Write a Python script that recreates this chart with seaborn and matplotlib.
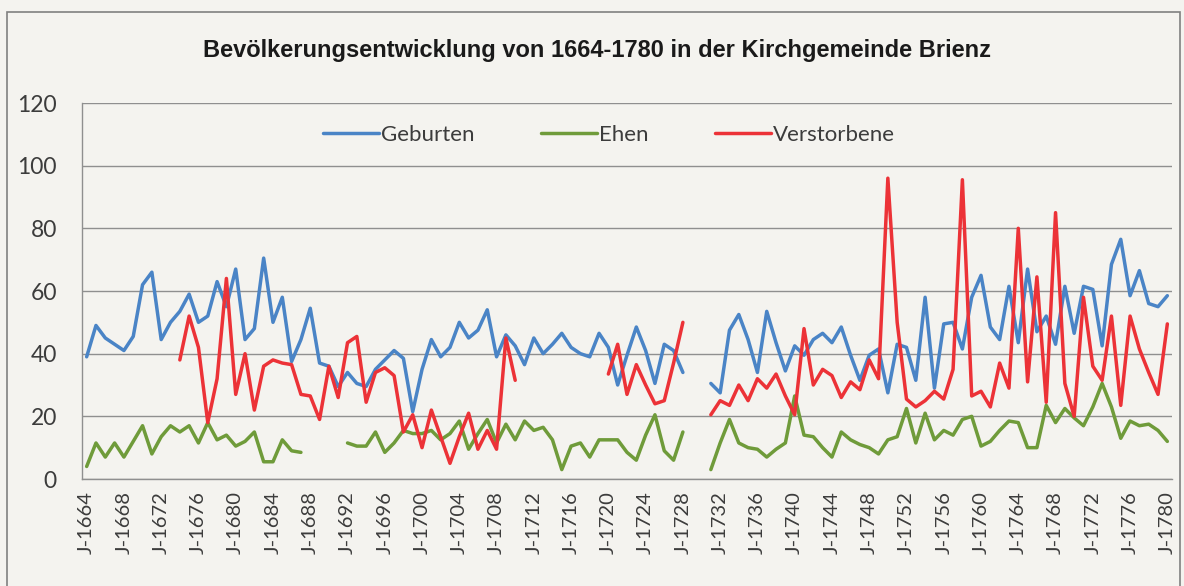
import numpy as np
import pandas as pd
import matplotlib
matplotlib.use('Agg')
import matplotlib.pyplot as plt
from matplotlib.patches import Rectangle
import seaborn as sns

# Jahre 1664-1780 (None = keine Angabe)
years = list(range(1664, 1781))

geburten = [39, 49, 45, 43, 41, 45.5, 62, 66, 44.5, 50,
            53.5, 59, 50, 52, 63, 55, 67, 44.5, 48, 70.5,
            50, 58, 37.5, 44.5, 54.5, 37, 36, 29.5, 34, 30.5,
            29.5, 35, 38, 41, 38.5, 21.5, 35, 44.5, 39, 42,
            50, 45, 47.5, 54, 39, 46, 42.5, 36.5, 45, 40,
            43, 46.5, 42, 40, 39, 46.5, 42, 30, 39.5, 48.5,
            41, 30.5, 43, 41, 34, None, None, 30.5, 27.5, 47.5,
            52.5, 44.5, 34, 53.5, 43.5, 34.5, 42.5, 39.5, 44.5, 46.5,
            43.5, 48.5, 39.5, 31.5, 39.5, 41.5, 27.5, 43, 42, 31.5,
            58, 29, 49.5, 50, 41.5, 58, 65, 48.5, 44.5, 61.5,
            43.5, 67, 47, 52, 43, 61.5, 46.5, 61.5, 60.5, 42.5,
            68.5, 76.5, 58.5, 66.5, 56, 55, 58.5]

ehen = [4, 11.5, 7, 11.5, 7, 12, 17, 8, 13.5, 17,
        15, 17, 11.5, 18, 12.5, 14, 10.5, 12, 15, 5.5,
        5.5, 12.5, 9, 8.5, None, None, None, None, 11.5, 10.5,
        10.5, 15, 8.5, 11.5, 15.5, 14.5, 14.5, 15.5, 12.5, 14.5,
        18.5, 9.5, 14.5, 19, 11.5, 17.5, 12.5, 18.5, 15.5, 16.5,
        12.5, 3, 10.5, 11.5, 7, 12.5, 12.5, 12.5, 8.5, 6,
        14, 20.5, 9, 6, 15, None, None, 3, 11.5, 19,
        11.5, 10, 9.5, 7, 9.5, 11.5, 26.5, 14, 13.5, 10,
        7, 15, 12.5, 11, 10, 8, 12.5, 13.5, 22.5, 11.5,
        21, 12.5, 15.5, 14, 19, 20, 10.5, 12, 15.5, 18.5,
        18, 10, 10, 23.5, 18, 22.5, 19.5, 17, 23, 30.5,
        23, 13, 18.5, 17, 17.5, 15.5, 12]

verstorbene = [None, None, None, None, None, None, None, None, None, None,
               38, 52, 42, 18, 32, 64, 27, 40, 22, 36,
               38, 37, 36.5, 27, 26.5, 19, 36, 26, 43.5, 45.5,
               24.5, 34, 35.5, 33, 15, 20.5, 10, 22, 13.5, 5,
               13.5, 21, 9.5, 15.5, 9.5, 45, 31.5, None, None, None,
               None, None, None, None, None, None, 33.5, 43, 27, 36.5,
               30, 24, 25, 37, 50, None, None, 20.5, 25, 23.5,
               30, 25, 32, 29, 33.5, 26.5, 20.5, 48, 30, 35,
               33, 26, 31, 28.5, 38, 32, 96, 50, 25.5, 23,
               25, 28, 25.5, 35, 95.5, 26.5, 28, 23, 37, 29,
               80, 31, 64.5, 24.5, 85, 30.5, 20, 58, 36, 31.5,
               52, 23.5, 52, 41.5, 34, 27, 49.5]

series_names = ['Geburten', 'Ehen', 'Verstorbene']
colors = ['#4a84c6', '#6f9b3a', '#ec3237']
tick_labels = ['J-%d' % y for y in years]

# Langes Format, Luecken als eigene Teilstuecke (units)
frames = []
for name, vals in zip(series_names, [geburten, ehen, verstorbene]):
    s = pd.Series(vals, dtype=float)
    seg = s.isna().cumsum()
    d = pd.DataFrame({'idx': np.arange(len(years)), 'wert': s,
                      'reihe': name, 'teil': name + seg.astype(str)})
    frames.append(d.dropna())
df = pd.concat(frames, ignore_index=True)

sns.set_style('white')
plt.rcParams['font.family'] = ['Lato', 'DejaVu Sans']

bg = '#f4f3ef'
grid_col = '#8f8f8f'
text_col = '#3c3c3c'

fig = plt.figure(figsize=(11.84, 5.86), dpi=100, facecolor=bg)
ax = fig.add_axes([82 / 1184, 1 - 479 / 586, (1172 - 82) / 1184, (479 - 103) / 586])
ax.set_facecolor(bg)

sns.lineplot(data=df, x='idx', y='wert', hue='reihe', units='teil',
             estimator=None, palette=dict(zip(series_names, colors)),
             hue_order=series_names, linewidth=2.5, ax=ax)

ax.set_xlim(-0.5, len(years) - 0.5)
ax.set_ylim(0, 120)
ax.set_yticks(range(0, 121, 20))
ax.set_xticks(range(0, len(years), 4))
ax.set_xticklabels(tick_labels[::4], rotation=90)
ax.set_xticks(np.arange(-0.5, len(years), 1), minor=True)
ax.set_xlabel('')
ax.set_ylabel('')

ax.grid(axis='y', color=grid_col, linewidth=1)
ax.grid(axis='x', visible=False)
for side in ['top', 'right']:
    ax.spines[side].set_visible(False)
for side in ['left', 'bottom']:
    ax.spines[side].set_color(grid_col)
    ax.spines[side].set_linewidth(1)

ax.tick_params(axis='y', length=6, color=grid_col, labelsize=16.5,
               labelcolor=text_col, pad=12)
ax.tick_params(axis='x', which='major', length=0, labelsize=14.5,
               labelcolor=text_col, pad=9)
ax.tick_params(axis='x', which='minor', length=5, color=grid_col,
               direction='out')

handles, labels = ax.get_legend_handles_labels()
keep = [(h, l) for h, l in zip(handles, labels) if l in series_names]
ax.legend([h for h, l in keep], [l for h, l in keep], ncol=3, frameon=False,
          loc='center', bbox_to_anchor=(0.4835, 0.915), fontsize=16,
          handlelength=2.5, handletextpad=0.1, columnspacing=3.0,
          labelcolor=text_col)

fig.text(0.504, 1 - 50 / 586,
         'Bevölkerungsentwicklung von 1664-1780 in der Kirchgemeinde Brienz',
         ha='center', va='center', fontsize=17, fontweight='bold',
         family=['Liberation Sans', 'DejaVu Sans'], color='#1a1a1a')

fig.patches.append(Rectangle((7 / 1184, -0.02), (1180 - 7) / 1184, 1.02 - 12 / 586,
                             transform=fig.transFigure, fill=False,
                             edgecolor='#808080', linewidth=1.2))

fig.savefig('out.png', dpi=100, facecolor=fig.get_facecolor())
